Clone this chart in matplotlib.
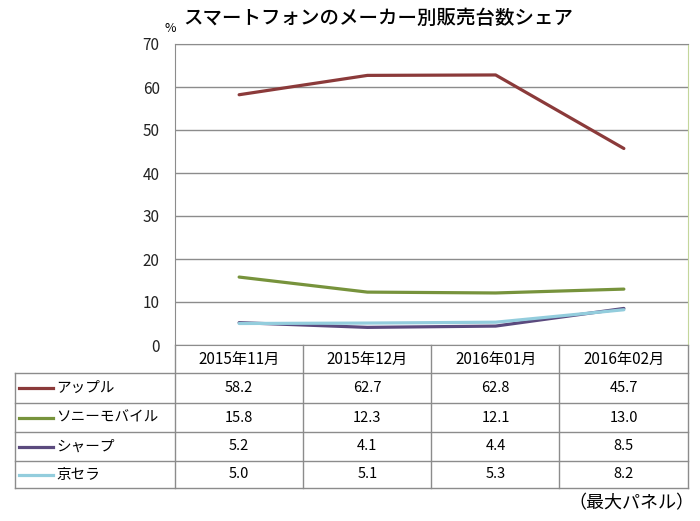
import matplotlib.pyplot as plt
from matplotlib.lines import Line2D

plt.rcParams['font.family'] = ['Noto Sans CJK JP', 'DejaVu Sans']

# データ
months = ['2015年11月', '2015年12月', '2016年01月', '2016年02月']
makers = ['アップル', 'ソニーモバイル', 'シャープ', '京セラ']
apple = [58.2, 62.7, 62.8, 45.7]
sony = [15.8, 12.3, 12.1, 13.0]
sharp = [5.2, 4.1, 4.4, 8.5]
kyocera = [5.0, 5.1, 5.3, 8.2]
series = [apple, sony, sharp, kyocera]
colors = ['#8b3a3a', '#77933c', '#5b4a7e', '#93cddd']
yticks = [0, 10, 20, 30, 40, 50, 60, 70]

W, H = 700, 521
fig = plt.figure(figsize=(W / 100, H / 100), dpi=100)


def fx(px):
    return px / W


def fy(py):
    return 1 - py / H


# グラフ領域
left, right, top, bottom = 175, 688, 44, 345
ax = fig.add_axes([fx(left), fy(bottom), (right - left) / W, (bottom - top) / H])

x = list(range(len(months)))
for vals, c in zip(series, colors):
    ax.plot(x, vals, color=c, lw=2.3, solid_capstyle='round', zorder=3)

ax.set_xlim(-0.5, len(months) - 0.5)
ax.set_ylim(0, 70)
ax.set_yticks(yticks)
ax.set_xticks([])
ax.tick_params(axis='y', length=0, pad=11, labelsize=11, colors='#222222')
ax.grid(axis='y', color='#8c8c8c', lw=1)
ax.set_axisbelow(True)
for s in ['top', 'left', 'bottom']:
    ax.spines[s].set_color('#8c8c8c')
ax.spines['right'].set_color('#c3d69b')

fig.text(fx(378), fy(18), 'スマートフォンのメーカー別販売台数シェア',
         ha='center', va='center', fontsize=14, fontweight='medium')
fig.text(fx(170), fy(29), '%', ha='center', va='center', fontsize=9)

# データテーブル
grid_c = '#8c8c8c'
row_lines = [373, 403, 432, 461, 488]
col_lines = [303, 431, 559]


def hline(y, x0, x1):
    fig.add_artist(Line2D([fx(x0), fx(x1)], [fy(y), fy(y)], color=grid_c, lw=1,
                          transform=fig.transFigure))


def vline(xp, y0, y1):
    fig.add_artist(Line2D([fx(xp), fx(xp)], [fy(y0), fy(y1)], color=grid_c, lw=1,
                          transform=fig.transFigure))


for y in row_lines:
    hline(y, 15, right)
vline(15, 373, 488)
vline(left, bottom, 488)
for xp in col_lines:
    vline(xp, bottom, 488)
vline(right, bottom, 488)

col_centers = [left + (right - left) / len(months) * (i + 0.5) for i in range(len(months))]
for cx, m in zip(col_centers, months):
    fig.text(fx(cx), fy((bottom + 373) / 2), m, ha='center', va='center', fontsize=11)

for i, (name, vals, c) in enumerate(zip(makers, series, colors)):
    cy = (row_lines[i] + row_lines[i + 1]) / 2
    fig.add_artist(Line2D([fx(19), fx(53)], [fy(cy), fy(cy)], color=c, lw=2.3,
                          transform=fig.transFigure))
    fig.text(fx(56), fy(cy), name, ha='left', va='center', fontsize=10.5)
    for cx, v in zip(col_centers, vals):
        fig.text(fx(cx), fy(cy), f'{v:.1f}', ha='center', va='center', fontsize=10.5)

fig.text(fx(694), fy(503), '（最大パネル）', ha='right', va='center', fontsize=13)

fig.savefig('out.png', dpi=100, facecolor='white')
